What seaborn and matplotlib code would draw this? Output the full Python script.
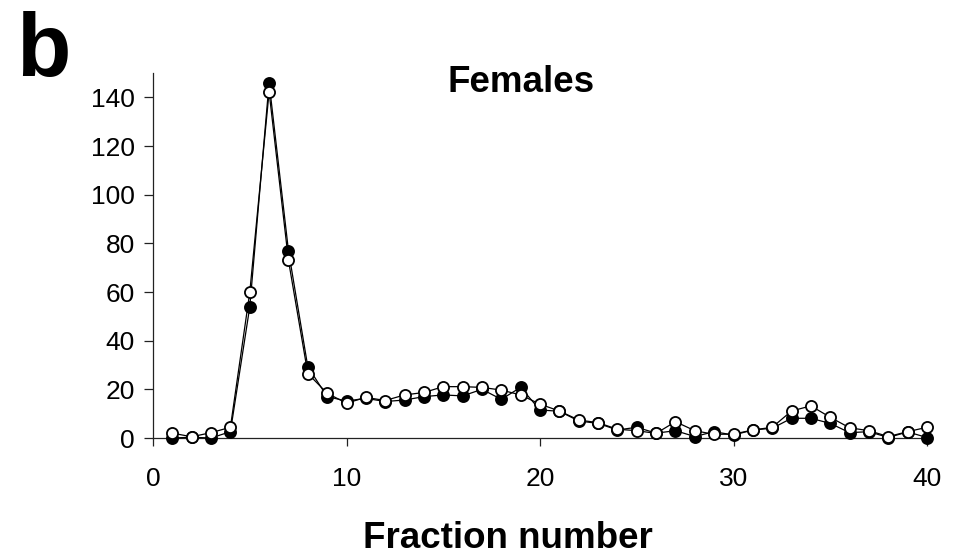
import matplotlib
matplotlib.use("Agg")
import matplotlib.pyplot as plt
import seaborn as sns
import pandas as pd

# Fraction profile, females: two replicate series
fractions = list(range(1, 41))
filled_series = [0, 0.3, 0, 2.6, 53.8, 146, 77, 29.3, 17, 15.2,
                 16.3, 15, 15.6, 17, 17.7, 17.3, 20, 15.9, 20.8, 11.5,
                 11, 7, 6, 3.3, 4.4, 2, 3, 0.6, 2.6, 1.2,
                 3.3, 4, 8.1, 8.1, 6, 2.2, 2.6, 0.2, 2.5, 0.2]
open_series = [2, 0.5, 2.2, 4.4, 59.8, 142.2, 73, 26.5, 18.4, 14.3,
               16.7, 15.4, 17.7, 18.7, 21.1, 21.1, 20.8, 19.7, 17.7, 13.9,
               11.1, 7.4, 6.3, 3.6, 3, 1.9, 6.7, 3, 1.5, 1.6,
               3.3, 4.4, 11.1, 13.2, 8.5, 4.2, 3, 0.6, 2.6, 4.4]
x_ticks = [0, 10, 20, 30, 40]
y_ticks = [0, 20, 40, 60, 80, 100, 120, 140]

sns.set_style("ticks")
plt.rcParams["font.family"] = ["Liberation Sans", "DejaVu Sans"]
plt.rcParams["text.color"] = "black"
plt.rcParams["xtick.labelcolor"] = "black"
plt.rcParams["ytick.labelcolor"] = "black"

W, H = 961, 556
fig = plt.figure(figsize=(W / 100, H / 100), dpi=100)
ax = fig.add_axes([153 / W, 1 - 438 / H, (927 - 153) / W, (438 - 73) / H])

df = pd.DataFrame({"fraction": fractions, "filled": filled_series, "open": open_series})

sns.lineplot(data=df, x="fraction", y="filled", ax=ax, color="black", lw=0.9,
             marker="o", markersize=8, markerfacecolor="black",
             markeredgecolor="black", markeredgewidth=1.3, clip_on=False, zorder=3)
sns.lineplot(data=df, x="fraction", y="open", ax=ax, color="black", lw=0.9,
             marker="o", markersize=8, markerfacecolor="white",
             markeredgecolor="black", markeredgewidth=1.3, clip_on=False, zorder=4)

ax.set_xlim(0, 40)
ax.set_ylim(0, 150)
ax.set_xticks(x_ticks)
ax.set_yticks(y_ticks)
ax.set_xlabel("")
ax.set_ylabel("")
sns.despine(ax=ax)
for s in ("left", "bottom"):
    ax.spines[s].set_color("#222222")
    ax.spines[s].set_linewidth(0.9)
ax.tick_params(axis="y", length=6.5, width=0.9, pad=6.5, labelsize=19, color="#222222")
ax.tick_params(axis="x", length=5.8, width=0.9, pad=15, labelsize=19, color="#222222")

fig.text(521 / W, 1 - 92 / H, "Females", ha="center", va="baseline",
         fontsize=26.5, fontweight="bold")
fig.text(508 / W, 1 - 548 / H, "Fraction number", ha="center", va="baseline",
         fontsize=26.5, fontweight="bold")
fig.text(16 / W, 1 - 76 / H, "b", ha="left", va="baseline",
         fontsize=64, fontweight="bold")

fig.savefig("out.png", dpi=100)
